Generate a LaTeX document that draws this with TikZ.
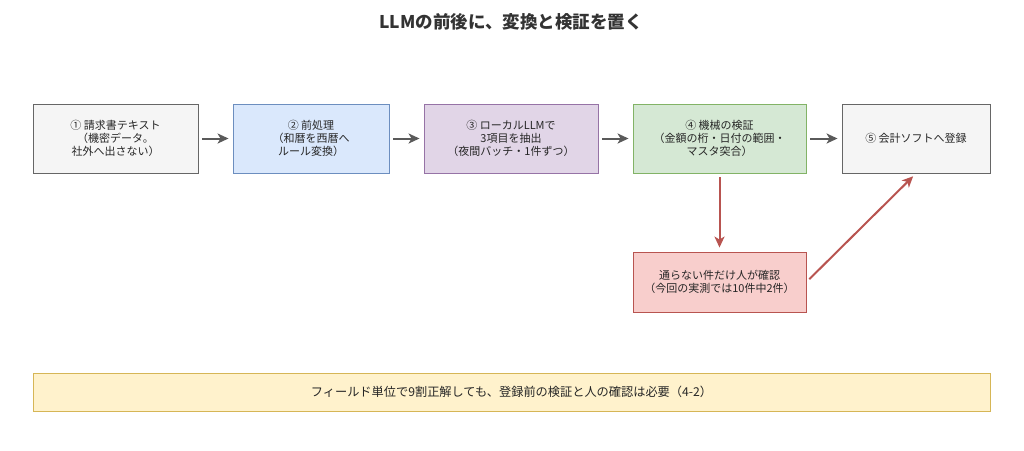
\documentclass[tikz,border=0pt]{standalone}
\usepackage{fontspec}
\setmainfont{Noto Sans CJK JP}
\usepackage{tikz}
\usetikzlibrary{arrows,arrows.meta,positioning,backgrounds,calc}
\definecolor{grayfill}{HTML}{F5F5F5}
\definecolor{grayline}{HTML}{666666}
\definecolor{bluefill}{HTML}{DAE8FC}
\definecolor{blueline}{HTML}{6C8EBF}
\definecolor{purplefill}{HTML}{E1D5E7}
\definecolor{purpleline}{HTML}{9673A6}
\definecolor{greenfill}{HTML}{D5E8D4}
\definecolor{greenline}{HTML}{82B366}
\definecolor{redfill}{HTML}{F8CECC}
\definecolor{redline}{HTML}{B85450}
\definecolor{yellowfill}{HTML}{FFF2CC}
\definecolor{yellowline}{HTML}{D6B656}
\definecolor{arrowgray}{HTML}{5A5A5A}

\begin{document}
\begin{tikzpicture}[x=1pt,y=-1pt,>={Stealth[length=11pt,width=10pt,inset=3pt]},shorten >=4pt,shorten <=4pt,
 semithick, font=\fontsize{11}{13}\selectfont,
 box/.style={draw, line width=0.9pt, minimum height=69pt, align=center, text=black!85},
 flow/.style={->, draw=arrowgray, line width=2pt},
 check/.style={->, draw=redline, line width=2pt}]
 \useasboundingbox (0,0) rectangle (1024,450);
 \node[font=\fontsize{17.5}{20}\selectfont\bfseries, text=black!80] (title) at (511,22) {LLMの前後に、変換と検証を置く};
 \node[box, fill=grayfill, draw=grayline, minimum width=165pt] (t1) at (115.5,138.5) {① 請求書テキスト\\（機密データ。\\社外へ出さない）};
 \node[box, fill=bluefill, draw=blueline, minimum width=156pt] (t2) at (311,138.5) {② 前処理\\（和暦を西暦へ\\ルール変換）};
 \node[box, fill=purplefill, draw=purpleline, minimum width=174pt] (t3) at (511,138.5) {③ ローカルLLMで\\3項目を抽出\\（夜間バッチ・1件ずつ）};
 \node[box, fill=greenfill, draw=greenline, minimum width=173pt] (t4) at (719.5,138.5) {④ 機械の検証\\（金額の桁・日付の範囲・\\マスタ突合）};
 \node[box, fill=grayfill, draw=grayline, minimum width=148pt] (t5) at (916,138.5) {⑤ 会計ソフトへ登録};
 \node[box, fill=redfill, draw=redline, minimum width=173pt, minimum height=60pt] (human) at (719.5,282) {通らない件だけ人が確認\\（今回の実測では10件中2件）};
 \node[box, fill=yellowfill, draw=yellowline, minimum width=957pt, minimum height=38pt, font=\fontsize{12.2}{14}\selectfont] (note) at (511.5,392) {フィールド単位で9割正解しても、登録前の検証と人の確認は必要（4-2）};
 % main flow
 \path (t1) edge[flow] (t2);
 \path (t2) edge[flow] (t3);
 \path (t3) edge[flow] (t4);
 \path (t4) edge[flow] (t5);
 % human check
 \path (t4) edge[check] (human);
 \path (human.east) edge[check] (t5.south);
\end{tikzpicture}
\end{document}
